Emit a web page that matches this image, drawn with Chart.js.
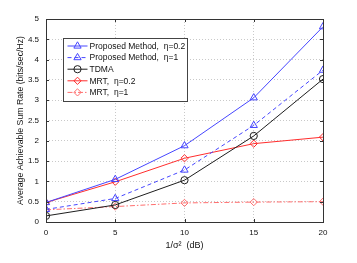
<!DOCTYPE html>
<html><head><meta charset="utf-8">
<script src="https://cdn.jsdelivr.net/npm/chart.js@4/dist/chart.umd.min.js"></script>
<style>html,body{margin:0;padding:0;background:#fff;}#wrap{position:relative;width:357px;height:263px;}</style>
</head><body><div id="wrap"><canvas id="c" width="357" height="263"></canvas></div>
<script>
const snrDb = [0, 5, 10, 15, 20];
const proposed02 = [0.48, 1.05, 1.88, 3.06, 4.81];
const proposed1 = [0.31, 0.58, 1.28, 2.38, 3.74];
const tdma = [0.15, 0.42, 1.03, 2.12, 3.52];
const mrt02 = [0.48, 0.99, 1.57, 1.93, 2.09];
const mrt1 = [0.30, 0.38, 0.47, 0.49, 0.50];
const seriesNames = ['Proposed Method,  \u03b7=0.2', 'Proposed Method,  \u03b7=1', 'TDMA', 'MRT,  \u03b7=0.2', 'MRT,  \u03b7=1'];
const yTicks = [0, 0.5, 1, 1.5, 2, 2.5, 3, 3.5, 4, 4.5, 5];
const xTicks = [0, 5, 10, 15, 20];

const FONT = 'Liberation Sans';
const blue = 'rgb(70,70,255)', red = 'rgb(255,45,45)', red2 = 'rgb(255,110,110)', black = 'rgb(30,30,30)';
function pts(v){ return snrDb.map((x,i)=>({x:x,y:v[i]})); }
function ds(i, data, color, style, dash, r){
  return {label: seriesNames[i], data: pts(data), borderColor: color, backgroundColor: 'rgba(0,0,0,0)',
    borderWidth: 1, borderDash: dash, pointStyle: style, pointRadius: r, pointBorderColor: color,
    pointBackgroundColor: 'rgba(0,0,0,0)', pointBorderWidth: 1, tension: 0};
}
const datasets = [
  ds(0, proposed02, blue, 'triangle', [], 4.2),
  ds(1, proposed1, blue, 'triangle', [4,3], 4.2),
  ds(2, tdma, black, 'circle', [], 3.6),
  ds(3, mrt02, red, 'rectRot', [], 3.6),
  ds(4, mrt1, red2, 'rectRot', [5,2,1.5,2], 3.6)
];

const framePlugin = {
  id: 'frame',
  afterDraw(chart){
    const ctx = chart.ctx, a = chart.chartArea;
    const xs = chart.scales.x, ys = chart.scales.y;
    ctx.save();
    ctx.strokeStyle = '#333'; ctx.lineWidth = 1; ctx.setLineDash([]);
    ctx.strokeRect(Math.round(a.left)+0.5, Math.round(a.top)+0.5, Math.round(a.right-a.left), Math.round(a.bottom-a.top));
    ctx.beginPath();
    xTicks.forEach(v=>{ const p = Math.round(xs.getPixelForValue(v))+0.5;
      ctx.moveTo(p, a.bottom); ctx.lineTo(p, a.bottom-3); ctx.moveTo(p, a.top); ctx.lineTo(p, a.top+3); });
    yTicks.forEach(v=>{ const p = Math.round(ys.getPixelForValue(v))+0.5;
      ctx.moveTo(a.left, p); ctx.lineTo(a.left+3, p); ctx.moveTo(a.right, p); ctx.lineTo(a.right-3, p); });
    ctx.stroke();
    // legend
    const lx = 63.5, ly = 38.5, lw = 124, lh = 63;
    ctx.fillStyle = '#fff'; ctx.fillRect(lx, ly, lw, lh);
    ctx.strokeStyle = '#444'; ctx.strokeRect(lx, ly, lw, lh);
    ctx.font = '8.5px "' + FONT + '"'; ctx.textBaseline = 'middle';
    datasets.forEach((d,i)=>{
      const y = ly + 7.5 + i*11.6;
      ctx.strokeStyle = d.borderColor; ctx.lineWidth = 1;
      ctx.setLineDash(d.borderDash);
      ctx.beginPath(); ctx.moveTo(lx+4, y); ctx.lineTo(lx+24, y); ctx.stroke();
      ctx.setLineDash([]);
      ctx.fillStyle = 'rgba(0,0,0,0)';
      Chart.helpers.drawPoint(ctx, {pointStyle: d.pointStyle, radius: d.pointRadius, borderWidth: 1, rotation: 0}, lx+14, y);
      ctx.fillStyle = '#111';
      ctx.fillText(d.label, lx+26, y+0.5);
    });
    ctx.restore();
  }
};

new Chart(document.getElementById('c'), {
  type: 'line',
  data: { datasets: datasets },
  options: {
    responsive: false, animation: false, devicePixelRatio: 1,
    layout: { padding: { left: 0, right: 34, top: 19, bottom: 0 } },
    plugins: { legend: { display: false }, tooltip: { enabled: false } },
    scales: {
      x: { type: 'linear', min: 0, max: 20,
        afterBuildTicks(s){ s.ticks = xTicks.map(v=>({value:v})); },
        afterFit(s){ s.height = 41; },
        grid: { color: '#bbb', drawTicks: false, lineWidth: 0.8 },
        border: { display: false, dash: [1,2] },
        ticks: { font: { family: FONT, size: 8 }, color: '#111', padding: 6, maxRotation: 0, callback: v => String(v) },
        title: { display: true, text: '1/\u03c3\u00b2  (dB)', font: { family: FONT, size: 9 }, color: '#111', padding: { top: 0, bottom: 12 } }
      },
      y: { min: 0, max: 5,
        afterBuildTicks(s){ s.ticks = yTicks.map(v=>({value:v})); },
        afterFit(s){ s.width = 46; },
        grid: { color: '#bbb', drawTicks: false, lineWidth: 0.8 },
        border: { display: false, dash: [1,2] },
        ticks: { font: { family: FONT, size: 8 }, color: '#111', padding: 7, callback: v => String(v) },
        title: { display: true, text: 'Average Achievable Sum Rate (bits/sec/Hz)', font: { family: FONT, size: 8.7 }, color: '#111', padding: { top: 15, bottom: 0 } }
      }
    }
  },
  plugins: [framePlugin]
});
</script></body></html>
